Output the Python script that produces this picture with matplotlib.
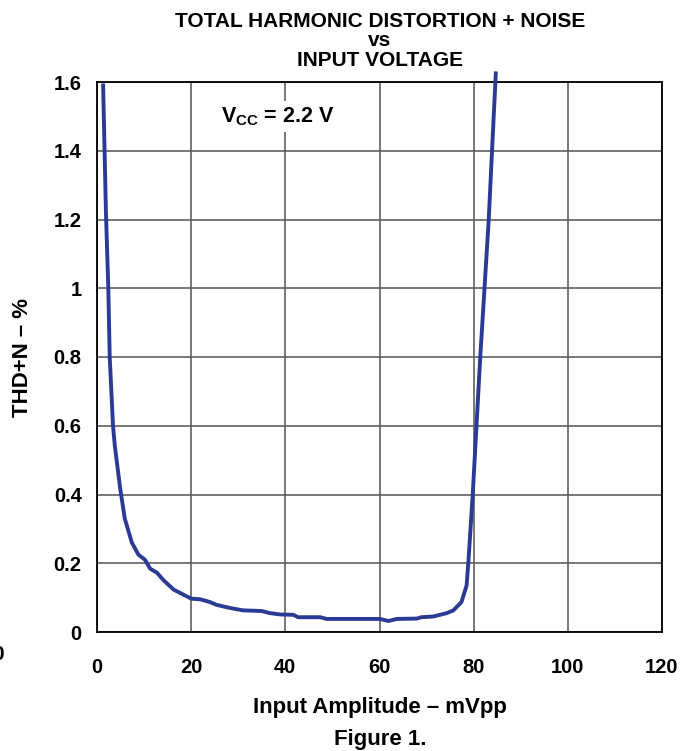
import numpy as np
import matplotlib
matplotlib.use('Agg')
import matplotlib.pyplot as plt

plt.rcParams['font.family'] = ['Liberation Sans', 'DejaVu Sans']
plt.rcParams['font.weight'] = 'bold'
plt.rcParams['mathtext.fontset'] = 'custom'
plt.rcParams['mathtext.rm'] = 'Liberation Sans:bold'
plt.rcParams['mathtext.bf'] = 'Liberation Sans:bold'

# input amplitude (mVpp) and THD+N (%)
amplitude = [1.3, 1.9, 2.4, 2.7, 3.4, 3.8, 4.9, 5.9, 7.4, 8.8, 10.2, 11.3, 12.7,
             14.1, 16.3, 17.6, 20.0, 22.0, 24.0, 25.4, 28.2, 31.0, 35.0, 36.7,
             38.9, 41.7, 42.7, 47.4, 48.8, 60.1, 61.9, 63.7, 67.9, 68.9, 71.4,
             74.3, 75.7, 77.4, 78.5, 78.9, 79.8, 80.6, 81.4, 82.3, 83.2, 83.9,
             84.7]
thdn = [1.59, 1.22, 1.0, 0.8, 0.6, 0.54, 0.42, 0.33, 0.26, 0.225, 0.21, 0.184,
        0.173, 0.151, 0.123, 0.114, 0.097, 0.095, 0.087, 0.079, 0.070, 0.063,
        0.061, 0.055, 0.051, 0.050, 0.043, 0.043, 0.038, 0.038, 0.032, 0.038,
        0.039, 0.043, 0.045, 0.055, 0.063, 0.087, 0.135, 0.208, 0.4, 0.6, 0.8,
        1.0, 1.2, 1.4, 1.625]

x_ticks = [0, 20, 40, 60, 80, 100, 120]
y_ticks = [0, 0.2, 0.4, 0.6, 0.8, 1.0, 1.2, 1.4, 1.6]
y_labels = ['0', '0.2', '0.4', '0.6', '0.8', '1', '1.2', '1.4', '1.6']

fig = plt.figure(figsize=(6.94, 7.51), dpi=100)
ax = fig.add_axes([97 / 694, 1 - 632 / 751, 565 / 694, 550 / 751])

ax.plot(amplitude, thdn, color='#2b3a94', lw=2.8, clip_on=False, zorder=3,
        solid_joinstyle='round')

ax.set_xlim(0, 120)
ax.set_ylim(0, 1.6)
ax.set_xticks(x_ticks)
ax.set_yticks(y_ticks)
ax.set_yticklabels(y_labels)
ax.grid(True, color='#606060', lw=1.2)
ax.tick_params(length=0, labelsize=14.5)
ax.tick_params(axis='x', pad=19)
ax.tick_params(axis='y', pad=11)
for s in ax.spines.values():
    s.set_linewidth(1.3)

ax.text(26.3, 1.50, r'$\mathregular{V_{CC}}$ = 2.2 V', fontsize=15.5,
        fontweight='bold', ha='left', va='center',
        bbox=dict(fc='white', ec='none', pad=3))

fig.text(23 / 694, 1 - 357 / 751, 'THD+N – %', fontsize=16,
         fontweight='bold', ha='center', va='center', rotation=90)
fig.text(380 / 694, 1 - 708 / 751, 'Input Amplitude – mVpp', fontsize=16,
         fontweight='bold', ha='center', va='center')
fig.text(380 / 694, 1 - 740 / 751, 'Figure 1.', fontsize=16,
         fontweight='bold', ha='center', va='center')
fig.text(380 / 694, 1 - 41 / 751,
         'TOTAL HARMONIC DISTORTION + NOISE\nvs\nINPUT VOLTAGE',
         fontsize=15, fontweight='bold', ha='center', va='center',
         linespacing=1.05)
fig.text(4 / 694, 1 - 655 / 751, '0', fontsize=15, fontweight='bold',
         ha='right', va='center')

fig.savefig('out.png', dpi=100)
